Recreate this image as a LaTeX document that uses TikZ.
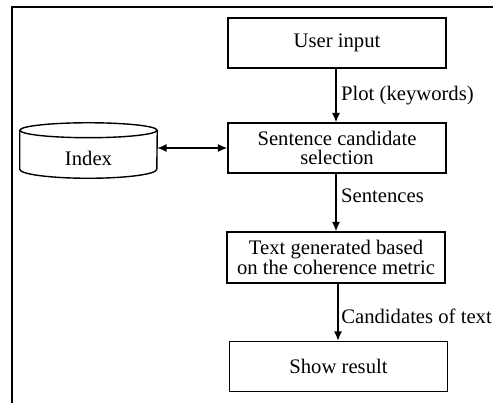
\documentclass[tikz,border=0pt]{standalone}
\usepackage{fontspec}
\setmainfont{Liberation Serif}
\usetikzlibrary{arrows.meta,calc}
\tikzset{
    stage/.style={draw, line width=1.05pt, minimum width=163.5pt, minimum height=37.5pt, inner sep=0pt, align=center},
    flow/.style={line width=1.05pt, -{Latex[length=7pt,width=6pt]}},
}
\begin{document}
\begin{tikzpicture}[x=0.75pt, y=-0.75pt, font=\fontsize{15.5}{14.5}\selectfont]
        \useasboundingbox (0,0) rectangle (493,403);
        \clip (0,0) rectangle (493,403);
        \draw[line width=1.05pt] (12,7) rectangle (520,430);
        \node[stage] (input) at (337,43) {User input};
        \node[stage] (select) at (337,148) {Sentence candidate\\selection};
        \node[stage, minimum height=38.25pt] (generate) at (336,257.5) {Text generated based\\on the coherence metric};
        \node[stage] (result) at (338.5,366.5) {Show result};
        \node[minimum width=102.75pt, minimum height=30pt, inner sep=0pt] (index) at (88.5,158) {Index};
        \draw[line width=1.05pt] ($(index.north)+(0,-7.5)$) ellipse [x radius=51.4pt, y radius=5.6pt];
        \draw[line width=1.05pt] ($(index.north west)+(0,-7.5)$) -- ($(index.south west)+(0,-9)$)
            arc[start angle=180, end angle=360, x radius=51.4pt, y radius=6.75pt] -- ($(index.north east)+(0,-7.5)$);
        \draw[flow] (input.south -| 336,0) -- (select.north -| 336,0) node[midway, right] {Plot (keywords)};
        \draw[flow] (select.south -| 336,0) -- (generate.north -| 336,0) node[pos=0.38, right] {Sentences};
        \draw[flow] (generate.south -| 338,0) -- (result.north -| 338,0) node[pos=0.58, right, inner sep=2pt] {Candidates of text};
        \draw[line width=1.05pt, {Latex[length=7pt,width=6pt]}-{Latex[length=7pt,width=6pt]}] (index.east |- select.west) -- (select.west);
    \end{tikzpicture}
\end{document}
